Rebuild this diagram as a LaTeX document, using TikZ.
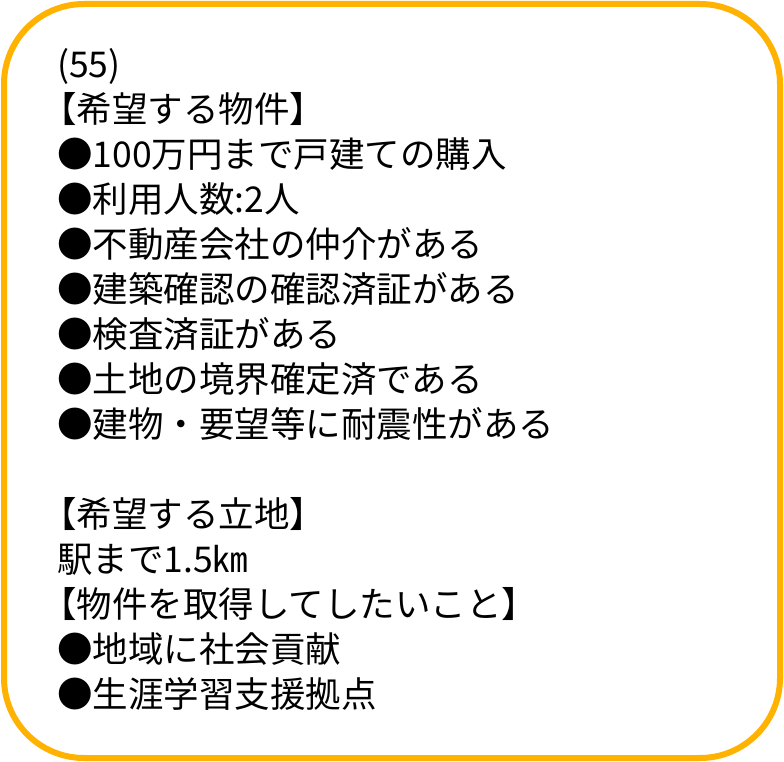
\documentclass[tikz,border=0pt]{standalone}
\usepackage{fontspec}
\setmainfont{Noto Sans CJK JP}
\usepackage{tikz}
\usetikzlibrary{positioning}
\newcommand{\lbr}{\kern-16pt【}

\begin{document}
\begin{tikzpicture}[x=1pt,y=-1pt,
        % styles
        frame/.style={draw=orange!60!yellow, line width=6pt, rounded corners=80pt},
        memo/.style={anchor=north west, align=left, inner sep=0pt, font=\fontsize{35.5}{45}\selectfont}
    ]
    \useasboundingbox (0,0) rectangle (784,762);
    \draw[frame] (4,4) rectangle (780,758);

    % text
    \node[memo] (memo) at (57,48) {(55)\\
        \lbr 希望する物件】\\
        ●100万円まで戸建ての購入\\
        ●利用人数:2人\\
        ●不動産会社の仲介がある\\
        ●建築確認の確認済証がある\\
        ●検査済証がある\\
        ●土地の境界確定済である\\
        ●建物・要望等に耐震性がある\\[45pt]
        \lbr 希望する立地】\\
        駅まで1.5㎞\\
        \lbr 物件を取得してしたいこと】\\
        ●地域に社会貢献\\
        ●生涯学習支援拠点};
\end{tikzpicture}
\end{document}
